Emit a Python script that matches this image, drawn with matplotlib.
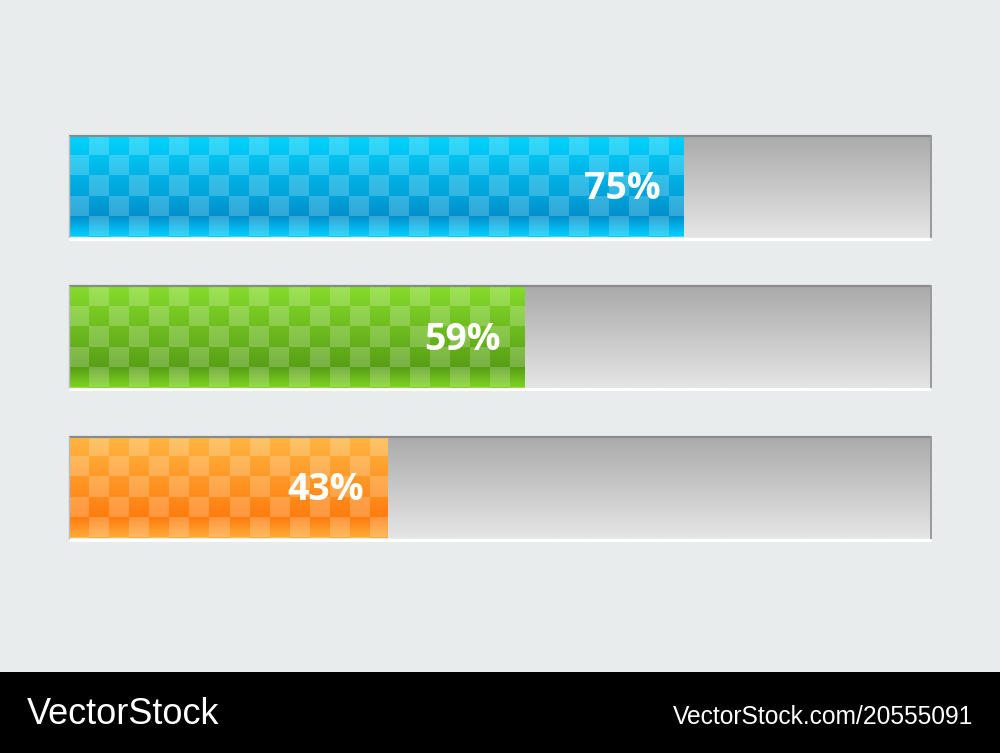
import numpy as np
import matplotlib
matplotlib.use("Agg")
import matplotlib.pyplot as plt
from matplotlib.patches import Rectangle

# ---- data ----
labels = ["75%", "59%", "43%"]
label_values = [75, 59, 43]
fill_values = [71.3, 52.8, 36.9]   # visible filled length (% of track)
track_max = 100
palettes = {
    "blue":   [(0, 212, 255), (0, 144, 204), (0, 208, 255)],
    "green":  [(134, 220, 42), (88, 158, 22), (126, 212, 33)],
    "orange": [(255, 182, 66), (255, 124, 14), (255, 170, 56)],
}
bar_colors = ["blue", "green", "orange"]
footer_left = "VectorStock"
footer_right = "VectorStock.com/20555091"

W, H = 1000, 753
fig = plt.figure(figsize=(W / 100, H / 100), dpi=100)
fig.patch.set_facecolor("#e8ecec")

# footer band
fig.patches.append(Rectangle((0, 0), 1, 81 / H, transform=fig.transFigure,
                             facecolor="black", edgecolor="none", zorder=0))
fig.text(27 / W, 1 - 724 / H, footer_left, color="white", fontsize=26,
         family="Liberation Sans", ha="left", va="baseline")
fig.text(973 / W, 1 - 724 / H, footer_right, color="white", fontsize=17.7,
         family="Liberation Sans", ha="right", va="baseline")

# bar axes
left_px, right_px = 69, 931
top_px, bot_px = 136, 538
ax = fig.add_axes([left_px / W, 1 - bot_px / H, (right_px - left_px) / W,
                   (bot_px - top_px) / H])
ax.set_facecolor("none")
for s in ax.spines.values():
    s.set_visible(False)
ax.set_xticks([])
ax.set_yticks([])

n = len(labels)
h = 101 / 150 / 2
ax.set_xlim(0, track_max)
ax.set_ylim(n - 1 + h, -h)

track_px = right_px - left_px
bar_h_px = 101
cell = 20


def interp_grad(stops, t):
    c0, c1, c2 = [np.array(c, float) for c in stops]
    out = np.empty((len(t), 3))
    m = t <= 0.8
    a = (t[m] / 0.8)[:, None]
    out[m] = c0 * (1 - a) + c1 * a
    b = ((t[~m] - 0.8) / 0.2)[:, None]
    out[~m] = c1 * (1 - b) + c2 * b
    return out


# grey track gradient
tg = np.linspace(0, 1, bar_h_px)[:, None]
grey = (170 + (229 - 170) * tg)[:, :, None].repeat(3, axis=2)
grey = np.repeat(grey, 4, axis=1) / 255.0

for i in range(n):
    yc = i
    # track
    ax.imshow(grey, extent=(0, track_max, yc + h, yc - h), aspect="auto",
              interpolation="bilinear", origin="upper", zorder=1)
    # checker fill
    fv = fill_values[i]
    wpx = int(round(fv / track_max * track_px))
    t = np.linspace(0, 1, bar_h_px)
    base = interp_grad(palettes[bar_colors[i]], t)  # (h,3)
    img = np.repeat(base[:, None, :], wpx, axis=1)
    rows = (np.arange(bar_h_px) // cell)[:, None]
    cols = (np.arange(wpx) // cell)[None, :]
    light = ((rows + cols) % 2 == 1)
    lighter = img + (255 - img) * 0.2
    img = np.where(light[:, :, None], lighter, img)
    ax.imshow(img / 255.0, extent=(0, fv, yc + h, yc - h), aspect="auto",
              interpolation="nearest", origin="upper", zorder=2)
    # outlines
    ax.plot([0, track_max], [yc - h, yc - h], color="#8a8a8a", lw=1.6,
            zorder=3, solid_capstyle="butt", clip_on=False)
    ax.plot([track_max, track_max], [yc - h, yc + h], color="#9a9a9a", lw=1.4,
            zorder=3, clip_on=False)
    ax.plot([0, 0], [yc - h, yc + h], color="#b8bcbc", lw=1.0, zorder=3,
            clip_on=False)
    ax.plot([0, track_max], [yc + h + 0.012, yc + h + 0.012], color="white",
            lw=2.2, zorder=3, solid_capstyle="butt", clip_on=False)
    # label
    ax.annotate(labels[i], xy=(fv, yc), xytext=(-23, -2.5),
                textcoords="offset pixels", ha="right", va="center",
                color="white", fontsize=27, fontweight="bold",
                family="Open Sans", zorder=4)

fig.savefig("out.png", dpi=100, facecolor=fig.get_facecolor())
